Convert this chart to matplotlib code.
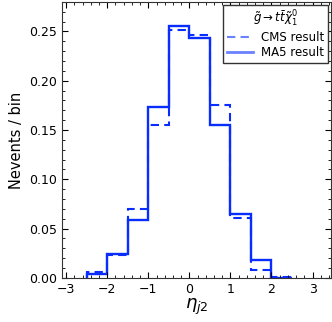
import numpy as np
import matplotlib
matplotlib.use("Agg")
import matplotlib.pyplot as plt
from matplotlib.lines import Line2D
from matplotlib.ticker import MultipleLocator

# bin edges in eta_j2
edges = [-2.5, -2.0, -1.5, -1.0, -0.5, 0.0, 0.5, 1.0, 1.5, 2.0, 2.5]
cms = [0.006, 0.023, 0.070, 0.155, 0.252, 0.246, 0.175, 0.061, 0.008, 0.001]
ma5 = [0.004, 0.024, 0.059, 0.173, 0.256, 0.243, 0.155, 0.065, 0.018, 0.0]

col = '#0a2dff'

fig = plt.figure(figsize=(3.32, 3.22), dpi=100)
ax = fig.add_axes([0.187, 0.137, 0.81, 0.857])

ax.stairs(cms, edges, baseline=0, color=col, lw=1.5, ls=(0, (4, 2.5)))
ax.stairs(ma5, edges, baseline=0, color=col, lw=1.7)

ax.set_xlim(-3.1, 3.45)
ax.set_ylim(0, 0.28)
ax.xaxis.set_major_locator(MultipleLocator(1))
ax.yaxis.set_major_locator(MultipleLocator(0.05))
ax.xaxis.set_minor_locator(MultipleLocator(0.2))
ax.yaxis.set_minor_locator(MultipleLocator(0.01))
ax.yaxis.set_major_formatter(matplotlib.ticker.FormatStrFormatter('%.2f'))
ax.tick_params(which='both', direction='in', top=True, right=True, labelsize=9)
ax.tick_params(which='major', length=4)
ax.tick_params(which='minor', length=2)
for s in ax.spines.values():
    s.set_color('#333333')

ax.set_ylabel('Nevents / bin', fontsize=10.5)
ax.set_xlabel(r'$\eta_{j2}$', fontsize=13, labelpad=1)

handles = [Line2D([], [], color=col, alpha=0.6, lw=1.5, ls=(0, (4, 2.5))),
           Line2D([], [], color=col, alpha=0.6, lw=2)]
leg = ax.legend(handles, ['CMS result', 'MA5 result'],
                title=r'$\tilde{g}\rightarrow t\bar{t}\tilde{\chi}_1^0$',
                loc='upper right', fontsize=8.5, title_fontsize=8.5,
                fancybox=False, framealpha=1, edgecolor='#333333',
                handlelength=2.2, borderaxespad=0.25, labelspacing=0.2,
                borderpad=0.3, handletextpad=0.7)
leg.get_frame().set_linewidth(1.0)

fig.savefig('out.png', dpi=100)
